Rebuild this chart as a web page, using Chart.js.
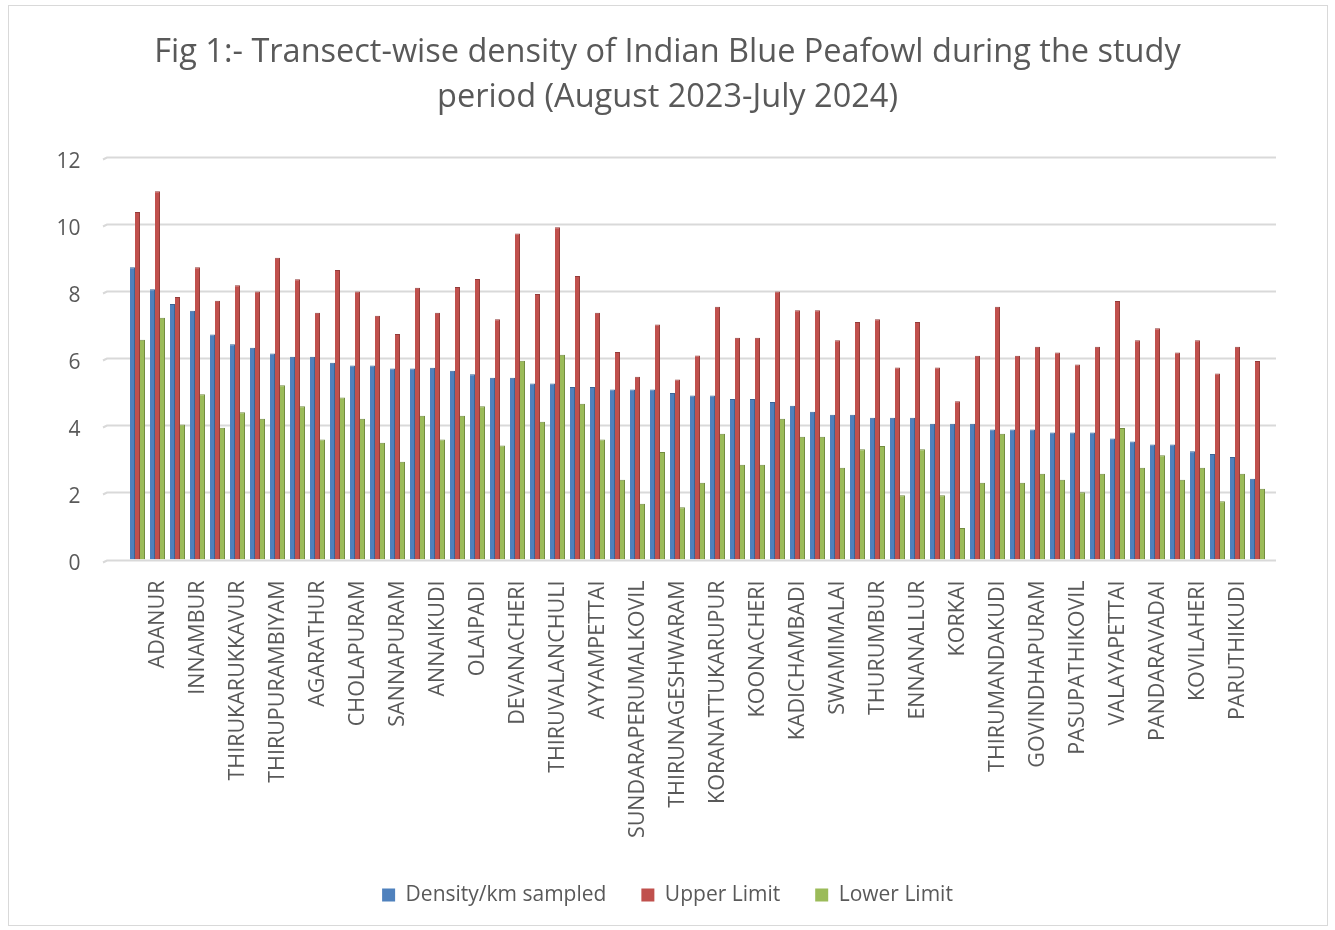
<!DOCTYPE html>
<html>
<head>
<meta charset="utf-8">
<script src="https://cdn.jsdelivr.net/npm/chart.js@4.4.1/dist/chart.umd.min.js"></script>
<style>
  html, body { margin: 0; padding: 0; background: #ffffff; }
  #frame {
    position: absolute; left: 8px; top: 5px; width: 1320px; height: 921px;
    border: 1px solid #d9d9d9; box-sizing: border-box;
  }
  #wrap { position: absolute; left: 0; top: 0; width: 1335px; height: 930px; }
</style>
</head>
<body>
<div id="frame"></div>
<div id="wrap"><canvas id="chart" width="1335" height="930"></canvas></div>
<script>
// Transects (every other name is printed on the axis)
const transects = [
  "", "ADANUR", "", "INNAMBUR", "", "THIRUKARUKKAVUR", "", "THIRUPURAMBIYAM",
  "", "AGARATHUR", "", "CHOLAPURAM", "", "SANNAPURAM", "", "ANNAIKUDI",
  "", "OLAIPADI", "", "DEVANACHERI", "", "THIRUVALANCHULI", "", "AYYAMPETTAI",
  "", "SUNDARAPERUMALKOVIL", "", "THIRUNAGESHWARAM", "", "KORANATTUKARUPUR", "", "KOONACHERI",
  "", "KADICHAMBADI", "", "SWAMIMALAI", "", "THURUMBUR", "", "ENNANALLUR",
  "", "KORKAI", "", "THIRUMANDAKUDI", "", "GOVINDHAPURAM", "", "PASUPATHIKOVIL",
  "", "VALAYAPETTAI", "", "PANDARAVADAI", "", "KOVILAHERI", "", "PARUTHIKUDI", ""
];

// Density per km sampled
const density = [
  8.72, 8.06, 7.62, 7.42, 6.71, 6.42, 6.32, 6.15, 6.05, 6.05,
  5.87, 5.79, 5.79, 5.70, 5.70, 5.72, 5.63, 5.53, 5.42, 5.42,
  5.25, 5.25, 5.15, 5.15, 5.07, 5.07, 5.07, 4.97, 4.89, 4.89,
  4.79, 4.79, 4.70, 4.59, 4.41, 4.32, 4.32, 4.23, 4.23, 4.23,
  4.05, 4.05, 4.05, 3.88, 3.88, 3.88, 3.79, 3.79, 3.79, 3.61,
  3.52, 3.43, 3.43, 3.23, 3.15, 3.06, 2.41
];

// Upper confidence limit
const upperLimit = [
  10.37, 10.99, 7.83, 8.72, 7.72, 8.18, 8.00, 9.00, 8.36, 7.36,
  8.64, 8.00, 7.27, 6.73, 8.11, 7.36, 8.13, 8.37, 7.17, 9.73,
  7.92, 9.91, 8.46, 7.36, 6.19, 5.45, 7.01, 5.37, 6.09, 7.54,
  6.62, 6.62, 8.00, 7.44, 7.44, 6.54, 7.09, 7.17, 5.73, 7.09,
  5.73, 4.72, 6.08, 7.54, 6.08, 6.35, 6.18, 5.82, 6.35, 7.71,
  6.54, 6.90, 6.18, 6.54, 5.55, 6.35, 5.92
];

// Lower confidence limit
const lowerLimit = [
  6.56, 7.21, 4.03, 4.93, 3.93, 4.39, 4.20, 5.20, 4.57, 3.58,
  4.83, 4.20, 3.48, 2.92, 4.29, 3.58, 4.29, 4.57, 3.40, 5.93,
  4.11, 6.11, 4.65, 3.58, 2.38, 1.66, 3.21, 1.56, 2.29, 3.75,
  2.83, 2.83, 4.20, 3.66, 3.66, 2.74, 3.29, 3.39, 1.92, 3.29,
  1.92, 0.94, 2.29, 3.75, 2.29, 2.56, 2.38, 2.01, 2.56, 3.92,
  2.74, 3.11, 2.38, 2.74, 1.74, 2.56, 2.11
];

const yTicks = [0, 2, 4, 6, 8, 10, 12];

const FONT = "'Open Sans', 'DejaVu Sans', sans-serif";
const TEXT = '#595959';

// Horizontal gridlines on the back wall, a little wider than the bar area
const backWall = {
  id: 'backWall',
  beforeDatasetsDraw(chart) {
    const y = chart.scales.y;
    const ctx = chart.ctx;
    ctx.save();
    ctx.strokeStyle = '#d9d9d9';
    ctx.lineWidth = 2;
    yTicks.forEach(v => {
      const py = Math.round(y.getPixelForValue(v)) + 0.5;
      ctx.beginPath();
      ctx.moveTo(103, py + 2);
      ctx.lineTo(107, py);
      ctx.lineTo(1276, py);
      ctx.stroke();
    });
    ctx.restore();
  }
};

function series(label, data, face, side) {
  return {
    label, data,
    backgroundColor: face,
    borderColor: side,
    borderWidth: { top: 1, right: 1, left: 0, bottom: 0 },
    borderSkipped: 'start',
    categoryPercentage: 0.75,
    barPercentage: 1.0
  };
}

new Chart(document.getElementById('chart'), {
  type: 'bar',
  data: {
    labels: transects,
    datasets: [
      series('Density/km sampled', density, '#4f81bd', '#3b6494'),
      series('Upper Limit', upperLimit, '#c0504d', '#933c3a'),
      series('Lower Limit', lowerLimit, '#9bbb59', '#738c40')
    ]
  },
  options: {
    responsive: false,
    animation: false,
    layout: { padding: { top: 30, left: 0, right: 0, bottom: 14.5 } },
    plugins: {
      title: {
        display: true,
        text: ['Fig 1:- Transect-wise density of Indian Blue Peafowl during the study',
               'period (August 2023-July 2024)'],
        color: TEXT,
        font: { family: FONT, size: 32.5, weight: 'normal', lineHeight: 1.385 },
        padding: { top: 0, bottom: 37.3 }
      },
      legend: {
        position: 'bottom',
        labels: {
          color: TEXT,
          font: { family: FONT, size: 21 },
          boxWidth: 13,
          boxHeight: 13,
          padding: 35,
          generateLabels(chart) {
            return chart.data.datasets.map((ds, i) => ({
              text: ds.label,
              fillStyle: ds.backgroundColor,
              strokeStyle: ds.backgroundColor,
              lineWidth: 0,
              fontColor: TEXT,
              datasetIndex: i,
              hidden: false
            }));
          }
        }
      },
      tooltip: { enabled: false }
    },
    scales: {
      x: {
        grid: { display: false },
        border: { display: false },
        ticks: {
          autoSkip: false,
          minRotation: 90,
          maxRotation: 90,
          color: TEXT,
          font: { family: FONT, size: 21.5 },
          padding: 13
        },
        afterFit(scale) { scale.height = 290; }
      },
      y: {
        min: 0,
        max: 12,
        grid: { display: false },
        border: { display: false },
        afterBuildTicks(scale) { scale.ticks = yTicks.map(v => ({ value: v })); },
        ticks: {
          color: TEXT,
          font: { family: FONT, size: 21 },
          padding: 39,
          labelOffset: 5
        },
        afterFit(scale) { scale.width = 127.5; }
      },
      // empty margin on the right of the plot
      side: {
        position: 'right',
        grid: { display: false },
        border: { display: false },
        ticks: { display: false },
        afterFit(scale) { scale.width = 67.5; }
      }
    }
  },
  plugins: [backWall]
});
</script>
</body>
</html>
